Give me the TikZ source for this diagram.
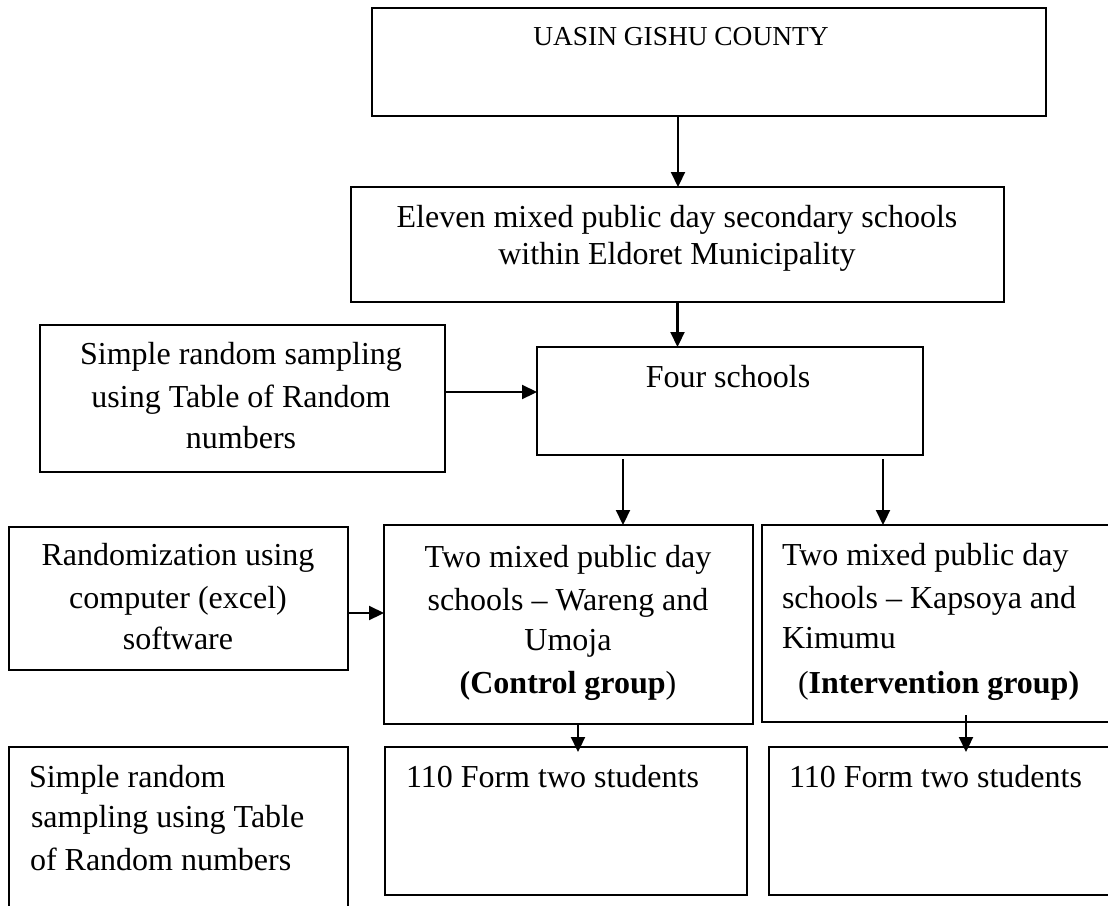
\documentclass[tikz,border=0pt]{standalone}
\usepackage{fontspec}
\setmainfont{Liberation Serif}
\usetikzlibrary{arrows.meta,calc}
\begin{document}
\begin{tikzpicture}[x=1pt,y=-1pt,
  box/.style={draw=black,line width=1.8pt,rectangle,inner sep=0pt,outer sep=0pt},
  txt/.style={inner sep=0pt,outer sep=0pt,font=\fontsize{32}{42}\selectfont},
  smalltxt/.style={inner sep=0pt,outer sep=0pt,font=\fontsize{27.4}{33}\selectfont},
  arr/.style={line width=2.2pt,-{Triangle[length=15pt,width=14pt]}}]
\useasboundingbox (0,0) rectangle (1108,905);
\fill[white] (0,0) rectangle (1108,905);
\clip (0,0) rectangle (1108,905);
% boxes
\node[box,minimum width=674pt,minimum height=108pt] (b1) at (709,62) {};
\node[box,minimum width=653pt,minimum height=115pt] (b2) at (677.5,244.5) {};
\node[box,minimum width=386pt,minimum height=108pt] (b3) at (730,401) {};
\node[box,minimum width=405pt,minimum height=147pt] (l1) at (242.5,398.5) {};
\node[box,minimum width=369pt,minimum height=199pt] (b4) at (568.5,624.5) {};
\node[box,minimum width=398pt,minimum height=197pt] (b5) at (961,623.5) {};
\node[box,minimum width=339pt,minimum height=143pt] (l2) at (178.5,598.5) {};
\node[box,minimum width=362pt,minimum height=148pt] (b6) at (566,821) {};
\node[box,minimum width=391pt,minimum height=148pt] (b7) at (964.5,821) {};
\node[box,minimum width=339pt,minimum height=213pt] (l3) at (178.5,853.5) {};
% texts
\node[smalltxt,anchor=base] (t1) at (681,45) {UASIN GISHU COUNTY};
\node[txt,anchor=base] (t2a) at (677,227) {Eleven mixed public day secondary schools};
\node[txt,anchor=base] (t2b) at (677,264) {within Eldoret Municipality};
\node[txt,anchor=base] (t3) at (728,387) {Four schools};
\node[txt,anchor=base] (l1a) at (241,364) {Simple random sampling};
\node[txt,anchor=base] (l1b) at (241,407) {using Table of Random};
\node[txt,anchor=base] (l1c) at (241,448) {numbers};
\node[txt,anchor=base] (b4a) at (568,567) {Two mixed public day};
\node[txt,anchor=base] (b4b) at (568,610) {schools – Wareng and};
\node[txt,anchor=base] (b4c) at (568,650) {Umoja};
\node[txt,anchor=base] (b4d) at (568,693) {\textbf{(Control group})};
\node[txt,anchor=base west] (b5a) at (782,565) {Two mixed public day};
\node[txt,anchor=base west] (b5b) at (782,608) {schools – Kapsoya and};
\node[txt,anchor=base west] (b5c) at (782,648) {Kimumu};
\node[txt,anchor=base west] (b5d) at (798,693) {(\textbf{Intervention group)}};
\node[txt,anchor=base] (l2a) at (178,565) {Randomization using};
\node[txt,anchor=base] (l2b) at (178,608) {computer (excel)};
\node[txt,anchor=base] (l2c) at (178,649) {software};
\node[txt,anchor=base west] (b6a) at (406,787) {110 Form two students};
\node[txt,anchor=base west] (b7a) at (789,787) {110 Form two students};
\node[txt,anchor=base west] (l3a) at (29,787) {Simple random};
\node[txt,anchor=base west] (l3b) at (31,827) {sampling using Table};
\node[txt,anchor=base west] (l3c) at (30,870) {of Random numbers};
% arrows
\draw[arr] ([xshift=-31pt]b1.south) -- ([xshift=-31pt]b1.south |- b2.north);
\draw[arr] (b2.south) -- (b2.south |- b3.north);
\draw[arr] ([yshift=6.5pt]l1.east) -- ([yshift=6.5pt]l1.east -| b3.west);
\draw[arr] ([xshift=86pt,yshift=-4pt]b3.south west) -- ([xshift=86pt]b3.south west |- b4.north);
\draw[arr] ([xshift=346pt,yshift=-4pt]b3.south west) -- ([xshift=346pt]b3.south west |- b5.north);
\draw[arr] ([yshift=-14.5pt]l2.east) -- ([yshift=-14.5pt]l2.east -| b4.west);
\draw[arr] ([xshift=9.5pt]b4.south) -- ([xshift=9.5pt,yshift=-5pt]b4.south |- b6.north);
\draw[arr] ([xshift=204pt,yshift=7pt]b5.south west) -- ([xshift=204pt,yshift=-5pt]b5.south west |- b7.north);
\end{tikzpicture}
\end{document}
